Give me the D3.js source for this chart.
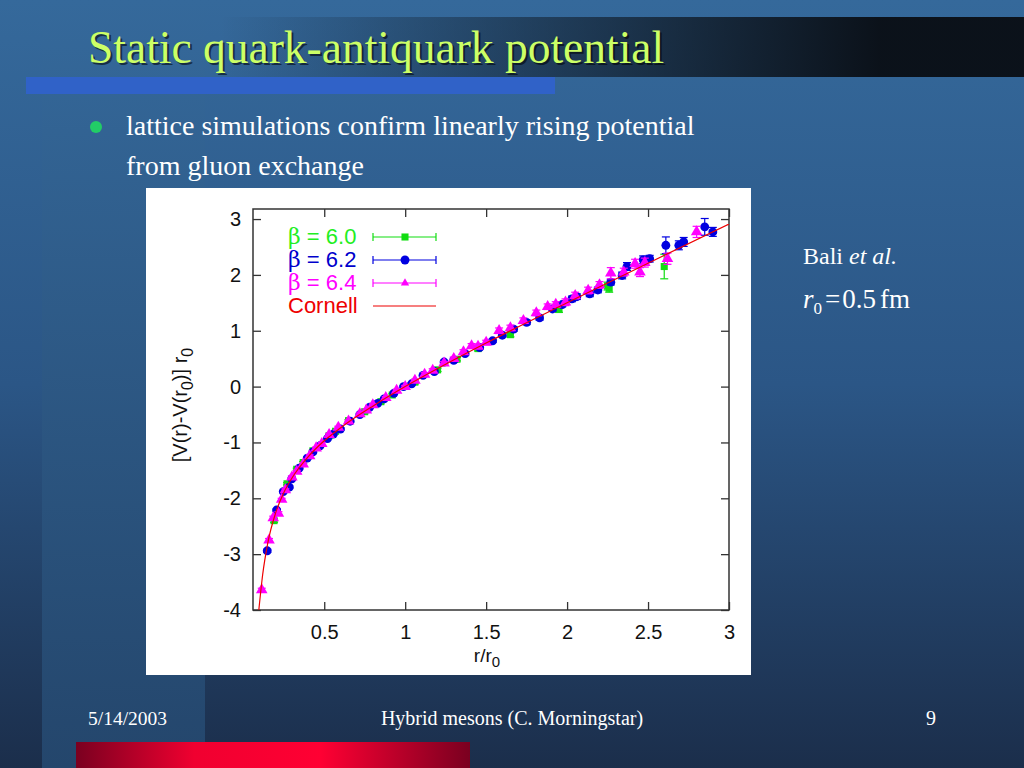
<!DOCTYPE html>
<html>
<head>
<meta charset="utf-8">
<script src="https://cdn.jsdelivr.net/npm/d3@7"></script>
<style>
  html, body { margin: 0; padding: 0; background: #1c3050; }
  svg { display: block; }
</style>
</head>
<body>
<div id="slide"></div>
<script>
// lattice data: [r/r0, (V(r)-V(r0)) r0, error]
const beta60 = [
  [0.19,-2.40,0.03],[0.27,-1.74,0.02],[0.33,-1.48,0.02],[0.37,-1.36,0.02],[0.43,-1.15,0.02],
  [0.53,-0.88,0.02],[0.57,-0.80,0.02],[0.65,-0.61,0.02],[0.75,-0.45,0.02],[0.85,-0.27,0.02],
  [0.92,-0.15,0.02],[1.06,0.08,0.03],[1.20,0.30,0.03],[1.32,0.49,0.03],[1.45,0.68,0.04],
  [1.65,0.93,0.04],[1.95,1.38,0.05],[2.25,1.80,0.07],[2.26,1.76,0.07],[2.60,2.15,0.22]
];
const beta62 = [
  [0.148,-2.94,0.03],[0.206,-2.21,0.02],[0.247,-1.88,0.02],[0.284,-1.80,0.02],[0.30,-1.65,0.02],
  [0.345,-1.46,0.02],[0.395,-1.28,0.02],[0.43,-1.17,0.02],[0.474,-1.06,0.02],[0.52,-0.93,0.02],
  [0.556,-0.85,0.02],[0.60,-0.76,0.02],[0.66,-0.62,0.02],[0.72,-0.50,0.02],[0.78,-0.37,0.02],
  [0.83,-0.30,0.02],[0.87,-0.22,0.02],[0.93,-0.12,0.02],[0.99,0.00,0.02],[1.04,0.05,0.02],
  [1.11,0.20,0.02],[1.18,0.27,0.03],[1.24,0.44,0.03],[1.30,0.47,0.03],[1.37,0.59,0.03],
  [1.46,0.70,0.03],[1.54,0.82,0.03],[1.60,0.92,0.03],[1.67,1.03,0.04],[1.75,1.15,0.04],
  [1.83,1.23,0.04],[1.91,1.39,0.04],[1.97,1.47,0.04],[2.03,1.57,0.05],[2.06,1.61,0.05],
  [2.14,1.66,0.05],[2.19,1.73,0.05],[2.27,1.87,0.05],[2.34,1.99,0.06],[2.37,2.15,0.07],
  [2.47,2.27,0.07],[2.51,2.29,0.06],[2.61,2.53,0.15],[2.69,2.53,0.08],[2.72,2.59,0.08],
  [2.85,2.86,0.15],[2.90,2.77,0.08]
];
const beta64 = [
  [0.114,-3.64,0.03],[0.159,-2.75,0.03],[0.185,-2.35,0.03],[0.217,-2.27,0.03],[0.237,-2.02,0.02],
  [0.26,-1.85,0.02],[0.30,-1.62,0.02],[0.33,-1.52,0.02],[0.37,-1.39,0.02],[0.41,-1.24,0.02],
  [0.45,-1.10,0.02],[0.485,-1.02,0.02],[0.53,-0.86,0.02],[0.587,-0.73,0.02],[0.65,-0.62,0.02],
  [0.72,-0.49,0.02],[0.76,-0.42,0.02],[0.80,-0.33,0.02],[0.88,-0.20,0.02],[0.947,-0.07,0.02],
  [1.00,0.00,0.02],[1.06,0.11,0.02],[1.12,0.22,0.03],[1.17,0.29,0.03],[1.24,0.42,0.03],
  [1.30,0.50,0.03],[1.36,0.62,0.04],[1.41,0.73,0.04],[1.45,0.72,0.04],[1.50,0.79,0.04],
  [1.58,1.00,0.05],[1.65,1.05,0.05],[1.73,1.18,0.05],[1.81,1.32,0.05],[1.88,1.43,0.05],
  [1.93,1.47,0.05],[1.99,1.51,0.06],[2.05,1.63,0.06],[2.13,1.72,0.06],[2.20,1.82,0.06],
  [2.27,2.03,0.10],[2.35,2.05,0.07],[2.42,2.20,0.08],[2.45,2.05,0.08],[2.48,2.22,0.08],
  [2.62,2.29,0.10],[2.80,2.77,0.10]
];

// Cornell fit curve
const cornellR = [0.096, 0.12, 0.15, 0.2, 0.25, 0.3, 0.4, 0.5, 0.6, 0.8, 1.0, 1.25, 1.5, 2.0, 2.5, 3.0];
const cornellV = [-4.00, -3.36, -2.82, -2.26, -1.90, -1.64, -1.26, -0.97, -0.74, -0.35, 0.00, 0.40, 0.78, 1.50, 2.21, 2.91];

const xTicks = [0.5, 1, 1.5, 2, 2.5, 3];
const yTicks = [-4, -3, -2, -1, 0, 1, 2, 3];
const legendLabels = ["6.0", "6.2", "6.4", "Cornell"];

const width = 1024, height = 768;
const svg = d3.select("#slide").append("svg")
    .attr("width", width)
    .attr("height", height);

const defs = svg.append("defs");

// background gradients
const bg = defs.append("linearGradient").attr("id", "bg")
    .attr("x1", 0).attr("y1", 0).attr("x2", 0).attr("y2", 1);
bg.append("stop").attr("offset", "0%").attr("stop-color", "#35699b");
bg.append("stop").attr("offset", "50%").attr("stop-color", "#2b5686");
bg.append("stop").attr("offset", "100%").attr("stop-color", "#1b2e4b");

const col = defs.append("linearGradient").attr("id", "col")
    .attr("x1", 0).attr("y1", 0).attr("x2", 0).attr("y2", 1);
col.append("stop").attr("offset", "0%").attr("stop-color", "#35699b");
col.append("stop").attr("offset", "100%").attr("stop-color", "#24466c");

const band = defs.append("linearGradient").attr("id", "band")
    .attr("gradientUnits", "userSpaceOnUse")
    .attr("x1", 220).attr("y1", 0).attr("x2", 880).attr("y2", 0);
band.append("stop").attr("offset", "0%").attr("stop-color", "#0a0f16").attr("stop-opacity", 0);
band.append("stop").attr("offset", "100%").attr("stop-color", "#0a0f16").attr("stop-opacity", 0.97);

const red = defs.append("linearGradient").attr("id", "red")
    .attr("x1", 0).attr("y1", 0).attr("x2", 1).attr("y2", 0);
red.append("stop").attr("offset", "0%").attr("stop-color", "#7a0020");
red.append("stop").attr("offset", "30%").attr("stop-color", "#f00030");
red.append("stop").attr("offset", "62%").attr("stop-color", "#ff0033");
red.append("stop").attr("offset", "100%").attr("stop-color", "#7a0020");

svg.append("rect").attr("width", width).attr("height", height).attr("fill", "url(#bg)");
svg.append("rect").attr("x", 42).attr("width", 163).attr("height", height).attr("fill", "url(#col)");
svg.append("rect").attr("x", 0).attr("y", 17).attr("width", width).attr("height", 60).attr("fill", "url(#band)");
svg.append("rect").attr("x", 26).attr("y", 77).attr("width", 529).attr("height", 17).attr("fill", "#3062c8");

// title
const titleFont = "'Liberation Serif', 'Times New Roman', serif";
svg.append("text")
    .attr("x", 90).attr("y", 65)
    .attr("font-family", titleFont).attr("font-size", 45.5)
    .attr("fill", "#000").attr("opacity", 0.55)
    .text("Static quark-antiquark potential");
svg.append("text")
    .attr("x", 88).attr("y", 63)
    .attr("font-family", titleFont).attr("font-size", 45.5)
    .attr("fill", "#ccff66")
    .text("Static quark-antiquark potential");

// bullet
svg.append("circle").attr("cx", 96).attr("cy", 127).attr("r", 6).attr("fill", "#22cc66");
svg.append("text").attr("x", 126).attr("y", 135)
    .attr("font-family", titleFont).attr("font-size", 28).attr("fill", "#fff")
    .text("lattice simulations confirm linearly rising potential");
svg.append("text").attr("x", 126).attr("y", 175)
    .attr("font-family", titleFont).attr("font-size", 28).attr("fill", "#fff")
    .text("from gluon exchange");

// right side note
const note = svg.append("text").attr("x", 803).attr("y", 264)
    .attr("font-family", titleFont).attr("font-size", 24).attr("fill", "#fff");
note.append("tspan").text("Bali ");
note.append("tspan").attr("font-style", "italic").text("et al.");

const r0 = svg.append("text").attr("x", 803).attr("y", 308)
    .attr("font-family", titleFont).attr("font-size", 27).attr("fill", "#fff");
r0.append("tspan").attr("font-style", "italic").text("r");
r0.append("tspan").attr("font-size", 17).attr("dy", 6).text("0");
r0.append("tspan").attr("dy", -6).attr("dx", 3).text("=");
r0.append("tspan").attr("dx", 2).text("0.5");
r0.append("tspan").attr("dx", 4).text("fm");

// footer
svg.append("text").attr("x", 88).attr("y", 725)
    .attr("font-family", titleFont).attr("font-size", 19.5).attr("fill", "#fff")
    .text("5/14/2003");
svg.append("text").attr("x", 512).attr("y", 725).attr("text-anchor", "middle")
    .attr("font-family", titleFont).attr("font-size", 20).attr("fill", "#fff")
    .text("Hybrid mesons (C. Morningstar)");
svg.append("text").attr("x", 931).attr("y", 725).attr("text-anchor", "middle")
    .attr("font-family", titleFont).attr("font-size", 20).attr("fill", "#fff")
    .text("9");
svg.append("rect").attr("x", 76).attr("y", 742).attr("width", 394).attr("height", 26).attr("fill", "url(#red)");

// plot panel
svg.append("rect").attr("x", 146).attr("y", 188).attr("width", 605).attr("height", 487).attr("fill", "#fff");

const plotFont = "'Liberation Sans', Arial, Helvetica, sans-serif";
const x = d3.scaleLinear().domain([0.06, 3]).range([253, 729]);
const y = d3.scaleLinear().domain([-4, 3.18]).range([610, 209]);

const frameColor = "#333";

// axes with inward ticks
const gx = svg.append("g").attr("transform", `translate(0,${y(-4)})`)
    .call(d3.axisBottom(x).tickValues(xTicks).tickSizeInner(-8).tickSizeOuter(0).tickPadding(15).tickFormat(d3.format("")));
const gxTop = svg.append("g").attr("transform", `translate(0,${y(3.18)})`)
    .call(d3.axisTop(x).tickValues(xTicks).tickSizeInner(-8).tickSizeOuter(0).tickFormat(""));
const gy = svg.append("g").attr("transform", `translate(${x(0.06)},0)`)
    .call(d3.axisLeft(y).tickValues(yTicks).tickSizeInner(-8).tickSizeOuter(0).tickPadding(12).tickFormat(d3.format("")));
const gyRight = svg.append("g").attr("transform", `translate(${x(3)},0)`)
    .call(d3.axisRight(y).tickValues(yTicks).tickSizeInner(-8).tickSizeOuter(0).tickFormat(""));

[gx, gxTop, gy, gyRight].forEach(g => {
    g.select(".domain").remove();
    g.selectAll(".tick line").attr("stroke", frameColor).attr("stroke-width", 1.3);
    g.selectAll("text").attr("font-family", plotFont).attr("font-size", 20).attr("fill", "#111");
});
gy.selectAll(".tick text").text(d => d3.format("")(d).replace("−", "-"));

// frame
svg.append("rect")
    .attr("x", x(0.06)).attr("y", y(3.18))
    .attr("width", x(3) - x(0.06)).attr("height", y(-4) - y(3.18))
    .attr("fill", "none").attr("stroke", frameColor).attr("stroke-width", 1.5);

// axis titles
const xt = svg.append("text").attr("x", 487).attr("y", 662).attr("text-anchor", "middle")
    .attr("font-family", plotFont).attr("font-size", 19).attr("fill", "#111");
xt.append("tspan").text("r/r");
xt.append("tspan").attr("font-size", 15).attr("dy", 5).text("0");

const yt = svg.append("text").attr("transform", "translate(187,405) rotate(-90)")
    .attr("text-anchor", "middle")
    .attr("font-family", plotFont).attr("font-size", 20).attr("fill", "#111");
yt.append("tspan").text("[V(r)-V(r");
yt.append("tspan").attr("font-size", 16).attr("dy", 6).text("0");
yt.append("tspan").attr("dy", -6).text(")] r");
yt.append("tspan").attr("font-size", 16).attr("dy", 6).text("0");

// series
const series = [
    { data: beta60, color: "#11dd11", symbol: d3.symbolSquare, size: 50 },
    { data: beta62, color: "#0000e0", symbol: d3.symbolCircle, size: 62 },
    { data: beta64, color: "#ff00ff", symbol: d3.symbolTriangle, size: 58 }
];

svg.append("clipPath").attr("id", "plotclip").append("rect")
    .attr("x", x(0.06)).attr("y", y(3.18))
    .attr("width", x(3) - x(0.06)).attr("height", y(-4) - y(3.18));

const plot = svg.append("g").attr("clip-path", "url(#plotclip)");

series.forEach(s => {
    const g = plot.append("g");
    // error bars
    const eb = g.selectAll("g.err").data(s.data).enter().append("g").classed("err", true);
    eb.append("line")
        .attr("x1", d => x(d[0])).attr("x2", d => x(d[0]))
        .attr("y1", d => y(d[1] - d[2])).attr("y2", d => y(d[1] + d[2]))
        .attr("stroke", s.color).attr("stroke-width", 1.2);
    eb.append("line")
        .attr("x1", d => x(d[0]) - 4).attr("x2", d => x(d[0]) + 4)
        .attr("y1", d => y(d[1] + d[2])).attr("y2", d => y(d[1] + d[2]))
        .attr("stroke", s.color).attr("stroke-width", 1.2);
    eb.append("line")
        .attr("x1", d => x(d[0]) - 4).attr("x2", d => x(d[0]) + 4)
        .attr("y1", d => y(d[1] - d[2])).attr("y2", d => y(d[1] - d[2]))
        .attr("stroke", s.color).attr("stroke-width", 1.2);
    // markers
    g.selectAll("path.pt").data(s.data).enter().append("path").classed("pt", true)
        .attr("transform", d => `translate(${x(d[0])},${y(d[1])})`)
        .attr("d", d3.symbol(s.symbol, s.size))
        .attr("fill", s.color);
});

// Cornell line
const cornell = cornellR.map((r, i) => [r, cornellV[i]]);
plot.append("path")
    .datum(cornell)
    .attr("fill", "none")
    .attr("stroke", "#ee0000")
    .attr("stroke-width", 1.2)
    .attr("d", d3.line().x(d => x(d[0])).y(d => y(d[1])).curve(d3.curveMonotoneX));

// legend
const legendColors = ["#22ee22", "#0000cc", "#ff00ff", "#ee0000"];
const legendY = [237, 260, 283, 306];
const lg = svg.append("g");
legendLabels.forEach((lab, i) => {
    const t = lg.append("text").attr("x", 288).attr("y", legendY[i] + 7)
        .attr("font-family", plotFont).attr("font-size", 22).attr("fill", legendColors[i]);
    if (i < 3) {
        t.append("tspan").attr("font-family", "'DejaVu Serif', serif").attr("font-size", 22).text("β");
        t.append("tspan").text(" = " + lab);
    } else {
        t.text(lab);
    }
    lg.append("line").attr("x1", 373).attr("x2", 436).attr("y1", legendY[i]).attr("y2", legendY[i])
        .attr("stroke", i < 3 ? series[i].color : "#ee0000").attr("stroke-width", 1.2);
    if (i < 3) {
        [373, 436].forEach(cx => {
            lg.append("line").attr("x1", cx).attr("x2", cx)
                .attr("y1", legendY[i] - 4).attr("y2", legendY[i] + 4)
                .attr("stroke", series[i].color).attr("stroke-width", 1.2);
        });
        lg.append("path")
            .attr("transform", `translate(405,${legendY[i]})`)
            .attr("d", d3.symbol(series[i].symbol, i === 2 ? 30 : series[i].size))
            .attr("fill", series[i].color);
    }
});
</script>
</body>
</html>
